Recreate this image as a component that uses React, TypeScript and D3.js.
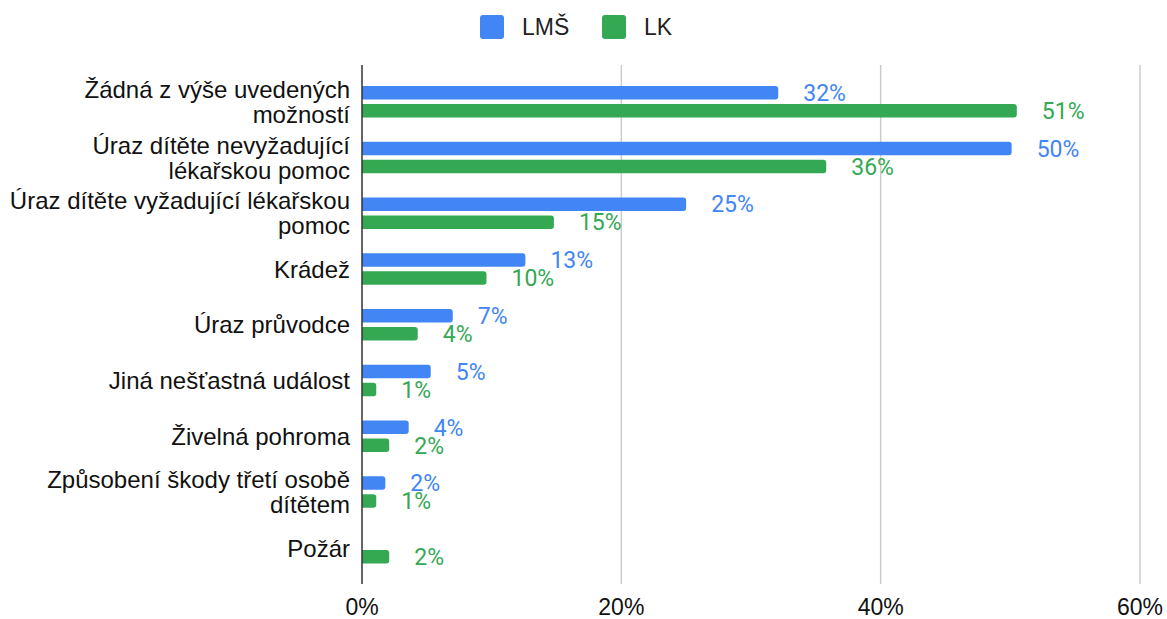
import React, { useEffect, useRef } from 'react';
import * as d3 from 'd3';

const categories = [
  'Žádná z výše uvedených možností',
  'Úraz dítěte nevyžadující lékařskou pomoc',
  'Úraz dítěte vyžadující lékařskou pomoc',
  'Krádež',
  'Úraz průvodce',
  'Jiná nešťastná událost',
  'Živelná pohroma',
  'Způsobení škody třetí osobě dítětem',
  'Požár',
];
const seriesNames = ['LMŠ', 'LK'];
const lmsValues = [32.1, 50.1, 25.0, 12.6, 7.0, 5.3, 3.6, 1.8, 0];
const lkValues = [50.5, 35.8, 14.8, 9.6, 4.3, 1.1, 2.1, 1.1, 2.1];
const xTicks = [0, 20, 40, 60];
const colors = ['#4285F4', '#34A853'];

const W = 1167;
const H = 619;

function App() {
  const ref = useRef<SVGSVGElement>(null);

  useEffect(() => {
    document.body.style.margin = '0';
    const svg = d3.select(ref.current);
    svg.selectAll('*').remove();

    const x = d3.scaleLinear().domain([0, 60]).range([362, 1140]);
    const y = d3.scaleBand().domain(categories).range([74, 576]).paddingInner(0);
    const step = y.step();
    const plotTop = 65;
    const plotBottom = 584;

    // gridlines
    svg.append('g')
      .selectAll('line')
      .data(xTicks.slice(1))
      .enter()
      .append('line')
      .attr('x1', d => x(d)).attr('x2', d => x(d))
      .attr('y1', plotTop).attr('y2', plotBottom)
      .style('stroke', '#cccccc')
      .style('stroke-width', 1.5);

    // tick labels
    svg.append('g')
      .selectAll('text')
      .data(xTicks)
      .enter()
      .append('text')
      .attr('x', d => x(d))
      .attr('y', 615)
      .attr('text-anchor', 'middle')
      .style('font-family', '"Liberation Sans", Arial, sans-serif')
      .style('font-size', '23px')
      .style('fill', '#111')
      .text(d => d + '%');

    const series = [lmsValues, lkValues];
    const offsets = [-16, 2];
    const barH = 13.5;
    const r = 3;

    const barPath = (x0: number, x1: number, yy: number, h: number) => {
      const rr = Math.min(r, (x1 - x0) / 2);
      return `M${x0},${yy}H${x1 - rr}Q${x1},${yy} ${x1},${yy + rr}V${yy + h - rr}Q${x1},${yy + h} ${x1 - rr},${yy + h}H${x0}Z`;
    };

    series.forEach((vals, si) => {
      const g = svg.append('g');
      const rows = vals.map((v, i) => ({ v, c: categories[i] })).filter(d => d.v > 0);
      g.selectAll('path')
        .data(rows)
        .enter()
        .append('path')
        .attr('d', d => {
          const cy = (y(d.c) as number) + step / 2;
          return barPath(x(0), x(d.v), cy + offsets[si], barH);
        })
        .style('fill', colors[si]);

      g.selectAll('text')
        .data(rows)
        .enter()
        .append('text')
        .attr('x', d => x(d.v) + 25)
        .attr('y', d => (y(d.c) as number) + step / 2 + offsets[si] + barH / 2)
        .attr('dy', '0.36em')
        .style('font-family', 'Roboto, sans-serif')
        .style('font-size', '23px')
        .style('fill', colors[si])
        .text(d => Math.round(d.v) + '%');
    });

    // axis line
    svg.append('line')
      .attr('x1', x(0)).attr('x2', x(0))
      .attr('y1', plotTop).attr('y2', plotBottom)
      .style('stroke', '#333333')
      .style('stroke-width', 1.5);

    // category labels, wrapped
    const labelX = 350;
    const maxW = 352;
    const lineH = 25;
    const labels = svg.append('g')
      .style('font-family', '"Liberation Sans", Arial, sans-serif')
      .style('font-size', '24px')
      .style('fill', '#111');

    categories.forEach(c => {
      const t = labels.append('text').attr('text-anchor', 'end').attr('x', labelX);
      const words = c.split(' ');
      const lines: string[] = [];
      let cur: string[] = [];
      const probe = t.append('tspan');
      words.forEach(w => {
        const test = [...cur, w].join(' ');
        probe.text(test);
        if (cur.length && (probe.node() as SVGTSpanElement).getComputedTextLength() > maxW) {
          lines.push(cur.join(' '));
          cur = [w];
        } else {
          cur.push(w);
        }
      });
      lines.push(cur.join(' '));
      probe.remove();
      const cy = (y(c) as number) + step / 2;
      const start = cy - ((lines.length - 1) * lineH) / 2;
      lines.forEach((l, i) => {
        t.append('tspan')
          .attr('x', labelX)
          .attr('y', start + i * lineH)
          .attr('dy', '0.35em')
          .text(l);
      });
    });

    // legend
    const legendX = [480, 602];
    const legend = svg.append('g');
    seriesNames.forEach((name, i) => {
      legend.append('rect')
        .attr('x', legendX[i]).attr('y', 15)
        .attr('width', 24).attr('height', 24)
        .attr('rx', 3)
        .style('fill', colors[i]);
      legend.append('text')
        .attr('x', legendX[i] + 42)
        .attr('y', 35)
        .style('font-family', '"Liberation Sans", Arial, sans-serif')
        .style('font-size', '23px')
        .style('fill', '#222')
        .text(name);
    });
  }, []);

  return (
    <svg ref={ref} width={W} height={H} style={{ display: 'block', background: '#fff' }} />
  );
}

export default App;
